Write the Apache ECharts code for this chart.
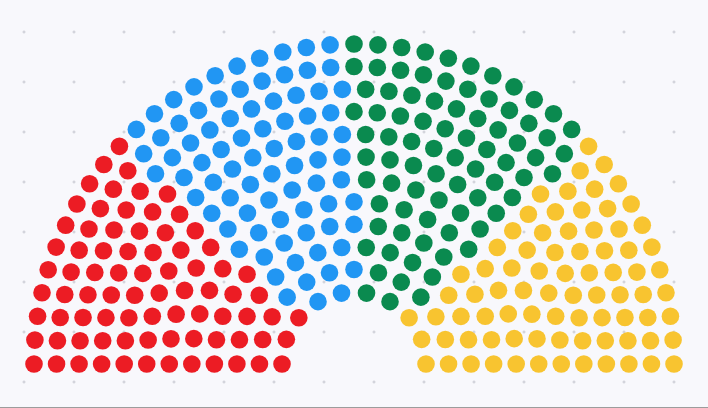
<!DOCTYPE html>
<html>
<head>
<meta charset="utf-8">
<script src="https://cdn.jsdelivr.net/npm/echarts@6/dist/echarts.min.js"></script>
<style>
html, body { margin: 0; padding: 0; }
body {
  width: 708px; height: 408px; overflow: hidden; position: relative;
  background-color: #f8f8fc;
  background-image: radial-gradient(circle, #d3d4dc 0, #d3d4dc 1.2px, rgba(248,248,252,0) 1.8px);
  background-size: 50px 50px;
  background-position: -1px 7px;
}
#chart { width: 708px; height: 408px; }
#rule { position: absolute; left: 0; bottom: 0; width: 708px; height: 1px; background: #9c9c9c; }
</style>
</head>
<body>
<div id="chart"></div>
<div id="rule"></div>
<script>
// Parties and seat counts
const parties = ['Red', 'Blue', 'Green', 'Yellow'];
const seats = [80, 80, 80, 80];
const partyColors = ['#ec1c24', '#2196f3', '#0a8a4f', '#f8c430'];
// Seats per row, inner row first
const rowSeats = [10, 13, 16, 19, 21, 24, 28, 32, 35, 38, 41, 43];

// Parliament layout: each row spreads its seats evenly over 180 degrees
const allSeats = [];
rowSeats.forEach(function (n, row) {
  for (let k = 0; k < n; k++) {
    allSeats.push({ row: row, angle: 180 - k * 180 / (n - 1) });
  }
});
// Order seats from left (180deg) to right (0deg); ties: inner row first
allSeats.sort(function (a, b) {
  const da = Math.round(b.angle * 1e6) - Math.round(a.angle * 1e6);
  return da !== 0 ? da : a.row - b.row;
});

const seriesData = parties.map(function () { return []; });
let cursor = 0;
seats.forEach(function (count, p) {
  for (let i = 0; i < count && cursor < allSeats.length; i++, cursor++) {
    const s = allSeats[cursor];
    seriesData[p].push([s.row, s.angle]);
  }
});

const chart = echarts.init(document.getElementById('chart'), null, { renderer: 'canvas' });
chart.setOption({
  backgroundColor: 'transparent',
  animation: false,
  polar: { center: [354, 364], radius: [72, 320] },
  radiusAxis: { type: 'value', min: 0, max: rowSeats.length - 1, show: false },
  angleAxis: { type: 'value', min: 0, max: 360, startAngle: 0, clockwise: false, show: false },
  series: parties.map(function (name, p) {
    return {
      type: 'scatter',
      name: name,
      coordinateSystem: 'polar',
      symbol: 'circle',
      symbolSize: 17.6,
      silent: true,
      itemStyle: { color: partyColors[p], opacity: 1 },
      data: seriesData[p]
    };
  })
});
</script>
</body>
</html>
